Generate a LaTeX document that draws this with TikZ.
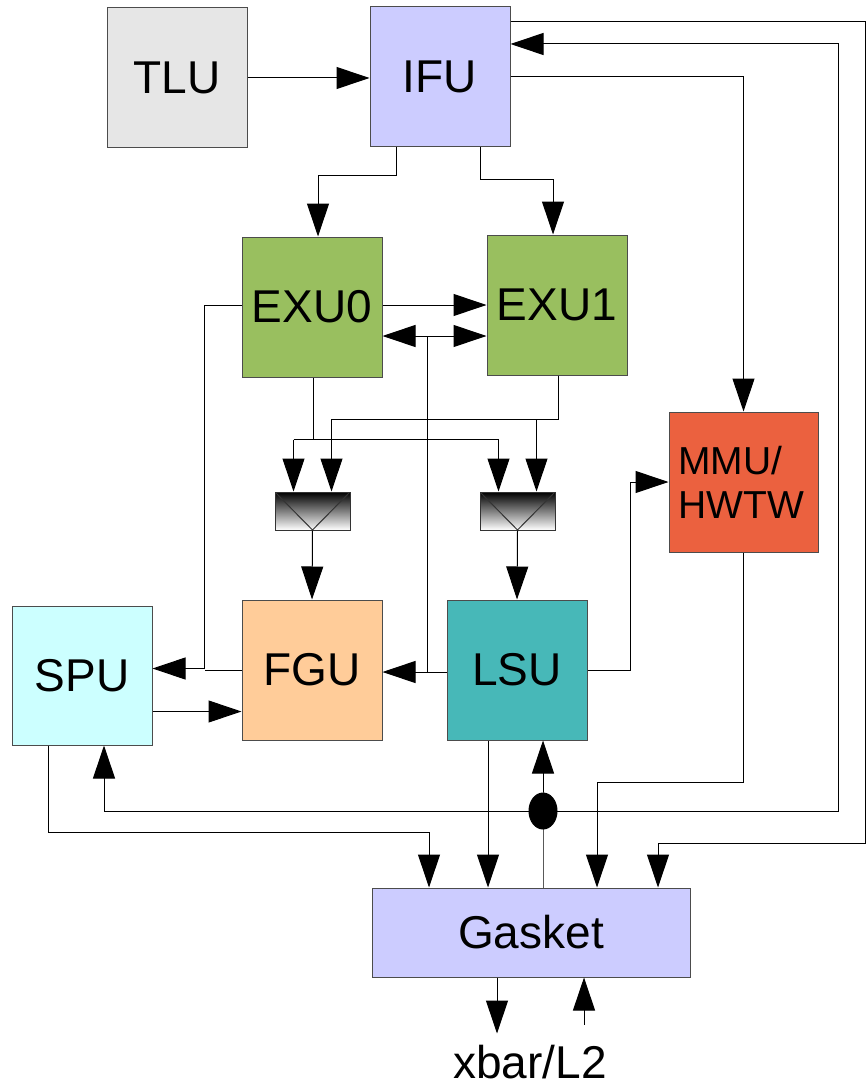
\documentclass[tikz,border=0pt]{standalone}
\usepackage{fontspec}
\setmainfont{Liberation Sans}
\usetikzlibrary{arrows.meta,shapes.geometric}
\definecolor{tlugray}{HTML}{E6E6E6}
\definecolor{ifublue}{HTML}{CCCCFF}
\definecolor{exugreen}{HTML}{99BF5F}
\definecolor{mmured}{HTML}{EB613F}
\definecolor{spucyan}{HTML}{CCFFFF}
\definecolor{fguorange}{HTML}{FFCC99}
\definecolor{lsuteal}{HTML}{47B8B8}
\tikzset{
  unit/.style={draw=black!70,minimum width=140pt,minimum height=140pt,inner sep=1pt,font=\fontsize{46}{52}\selectfont},
  mux/.style={draw=black!80,minimum width=75pt,minimum height=38pt,inner sep=0pt,top color=black,bottom color=white,
    path picture={\draw[black!80] (path picture bounding box.north west) -- (path picture bounding box.south) -- (path picture bounding box.north east);}},
  joint/.style={draw,ellipse,fill=black,minimum width=28pt,minimum height=36pt,inner sep=0pt},
  arr/.style={-{Triangle[length=33pt,width=22pt]}},
  arrs/.style={{Triangle[length=33pt,width=22pt]}-{Triangle[length=33pt,width=22pt]}}
}
\begin{document}
\begin{tikzpicture}[
  x=1pt,y=-1pt,
  line width=1pt
]
  \useasboundingbox (0,0) rectangle (866,1086);
  \node[unit,fill=tlugray] (TLU) at (177,78) {TLU};
  \node[unit,fill=ifublue] (IFU) at (440,77) {IFU};
  \node[unit,fill=exugreen] (EXU0) at (312,307) {EXU0};
  \node[unit,fill=exugreen] (EXU1) at (557,305) {EXU1};
  \node[unit,fill=mmured,minimum width=149pt,text width=130pt,align=left,font=\fontsize{39}{44}\selectfont] (MMU) at (743.5,482) {MMU/\\HWTW};
  \node[mux] (mux1) at (312.5,511) {};
  \node[mux] (mux2) at (517.5,511) {};
  \node[unit,fill=spucyan,minimum height=139pt] (SPU) at (82,675.5) {SPU};
  \node[unit,fill=fguorange] (FGU) at (312,670) {FGU};
  \node[unit,fill=lsuteal] (LSU) at (517,670) {LSU};
  \node[unit,fill=ifublue,minimum width=318pt,minimum height=89pt] (Gasket) at (531,932.5) {Gasket};
  \node[font=\fontsize{46}{52}\selectfont] (xbar) at (530,1062) {xbar/L2};
  \node[joint] (jn) at (543,811) {};
  \coordinate (edgeTop) at (865,22);
  \coordinate (edgeBot) at (865,843);
  \coordinate (edgeIn) at (838,811);
  \path (mux1.north) ++(-19,0) coordinate (m1a) ++(38,0) coordinate (m1b);
  \path (mux2.north) ++(-19,0) coordinate (m2a) ++(38,0) coordinate (m2b);

  \draw[arr] (TLU.east) -- (IFU.west |- TLU.east);
  \draw[arr] ([xshift=-44pt]IFU.south) -- ++(0,28) -| ([xshift=6pt]EXU0.north);
  \draw[arr] ([xshift=40pt]IFU.south) -- ++(0,32) -| ([xshift=-4pt]EXU1.north);
  \draw[arr] ([yshift=55pt]IFU.east) -- (edgeTop) -- (edgeBot) -| ([xshift=127pt]Gasket.north);
  \draw[arr] (IFU.east) -| (MMU.north);
  \draw[arr] ([yshift=2pt]EXU0.east) -- ([yshift=2pt]EXU0.east -| EXU1.west);
  \draw[arrs] ([yshift=-29pt]EXU0.east) -- ([yshift=-29pt]EXU0.east -| EXU1.west);
  \draw[arr] ([yshift=2pt]EXU0.west) -- ++(-37,0) |- ([yshift=7pt]SPU.east);
  \draw (FGU.west) -- ++(-37,0);
  \draw ([xshift=1pt]EXU0.south) -- ++(0,62) coordinate (b0);
  \draw[arr] (b0 -| m1a) -- (m1a);
  \draw[arr] (b0 -| m1a) -- (b0 -| m2a) -- (m2a);
  \draw[arr] ([xshift=1pt]EXU1.south) -- ++(0,44) coordinate (b1) -| (m1b);
  \draw[arr] (b1 -| m2b) -- (m2b);
  \draw[arr] (mux1.south) -- (FGU.north);
  \draw[arr] (mux2.south) -- (LSU.north);
  \draw[arr] ([yshift=-2pt]LSU.west) -- ([yshift=-2pt]LSU.west -| FGU.east);
  \draw ([xshift=-19pt,yshift=-2pt]LSU.west) -- ++(0,-336);
  \draw[arr] (LSU.east) -- ++(43,0) |- (MMU.west);
  \draw[arr] ([yshift=-36pt]SPU.east) -- ([yshift=-36pt]SPU.east -| FGU.west);
  \draw[arr] (MMU.south) -- ++(0,230) -| ([xshift=66pt]Gasket.north);
  \draw[arr] ([xshift=-29pt]LSU.south) -- ([xshift=-29pt]LSU.south |- Gasket.north);
  \draw[arr] ([xshift=-34pt]SPU.south) -- ++(0,87) -| ([xshift=-102pt]Gasket.north);
  \draw[arr] ([xshift=12pt]Gasket.north) -- (jn.center) -- (jn |- LSU.south);
  \draw[arr] (jn.center) -| ([xshift=22pt]SPU.south);
  \draw[arr] (jn.center) -- (edgeIn) |- ([yshift=33pt]IFU.east);
  \draw[arr] ([xshift=-34pt]Gasket.south) -- ++(0,56);
  \draw[arr] ([xshift=53pt,yshift=-47pt]Gasket.south) -- ([xshift=53pt]Gasket.south);
\end{tikzpicture}
\end{document}
